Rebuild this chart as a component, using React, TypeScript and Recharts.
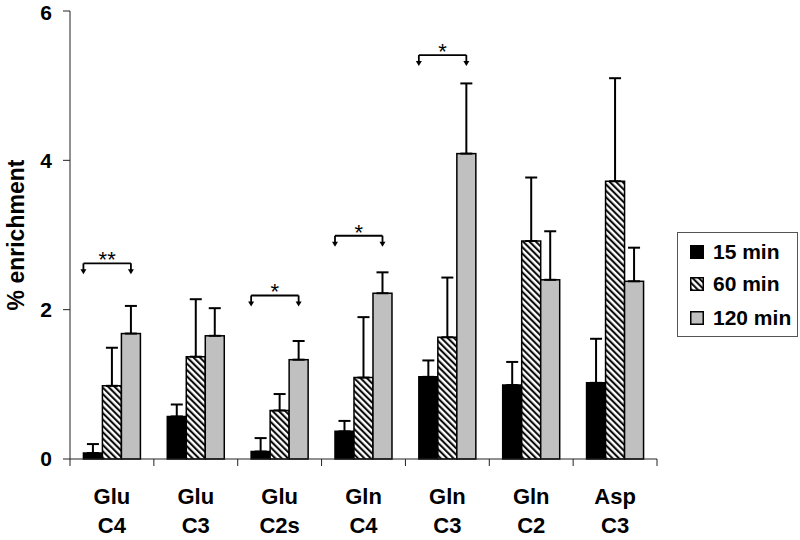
import { BarChart, Bar, XAxis, YAxis, ErrorBar, Legend, Label } from "recharts";

// values (% enrichment, mean + one-sided SD)
const categories = ["Glu C4", "Glu C3", "Glu C2s", "Gln C4", "Gln C3", "Gln C2", "Asp C3"];
const min15 = [0.08, 0.57, 0.1, 0.37, 1.1, 0.99, 1.02];
const min15Err = [0.12, 0.16, 0.18, 0.14, 0.22, 0.31, 0.59];
const min60 = [0.98, 1.37, 0.65, 1.09, 1.63, 2.92, 3.72];
const min60Err = [0.51, 0.77, 0.22, 0.81, 0.8, 0.85, 1.38];
const min120 = [1.68, 1.65, 1.33, 2.22, 4.09, 2.4, 2.38];
const min120Err = [0.37, 0.37, 0.25, 0.28, 0.94, 0.65, 0.45];
// significance brackets (15 vs 120 min)
const sigLevel = [2.62, null, 2.19, 2.99, 5.41, null, null];
const sigLabel = ["**", "", "*", "*", "*", "", ""];
const yTicks = [0, 2, 4, 6];

const FONT = '"Liberation Sans", Arial, Helvetica, sans-serif';
const GRAY = "#c0c0c0";

const data = categories.map((name, i) => ({
  name,
  m15: min15[i],
  m15Err: [0, min15Err[i]],
  m60: min60[i],
  m60Err: [0, min60Err[i]],
  m120: min120[i],
  m120Err: [0, min120Err[i]],
  sig: sigLevel[i],
  sigText: sigLabel[i],
}));

const series = [
  { key: "m15", name: "15 min", fill: "#000" },
  { key: "m60", name: "60 min", fill: "url(#hatch)" },
  { key: "m120", name: "120 min", fill: GRAY },
];

function CategoryTick(props: any) {
  const { x, y, payload, index } = props;
  const half = payload && typeof payload.offset === "number" ? payload.offset : 41.9;
  const [top, bottom] = String(payload.value).split(" ");
  const last = index === categories.length - 1;
  return (
    <g>
      <line x1={x - half} y1={y} x2={x - half} y2={y + 7} stroke="#222" />
      {last && <line x1={x + half} y1={y} x2={x + half} y2={y + 7} stroke="#222" />}
      <text x={x} y={y + 45} textAnchor="middle" fontFamily={FONT} fontWeight="bold" fontSize={22} fill="#000">
        {top}
      </text>
      <text x={x} y={y + 74} textAnchor="middle" fontFamily={FONT} fontWeight="bold" fontSize={22} fill="#000">
        {bottom}
      </text>
    </g>
  );
}

// gray bar also carries the significance bracket for its group
function GrayBarWithBracket(props: any) {
  const { x, y, width, height, payload } = props;
  const base = y + height;
  const bar = <rect x={x} y={y} width={width} height={height} fill={GRAY} stroke="#000" strokeWidth={1.5} />;
  if (!payload || payload.sig == null || !payload.m120) return bar;
  const perUnit = height / payload.m120;
  const by = base - payload.sig * perUnit;
  const left = x - 2 * width;
  const right = x + width / 2;
  const arrow = (ax: number) => (
    <g>
      <line x1={ax} y1={by} x2={ax} y2={by + 7} stroke="#000" strokeWidth={1.8} />
      <polygon points={`${ax - 3},${by + 6} ${ax + 3},${by + 6} ${ax},${by + 11}`} fill="#000" />
    </g>
  );
  return (
    <g>
      {bar}
      <line x1={left} y1={by} x2={right} y2={by} stroke="#000" strokeWidth={1.8} />
      {arrow(left)}
      {arrow(right)}
      <text x={(left + right) / 2} y={by + 4} textAnchor="middle" fontFamily={FONT} fontSize={22} fill="#000">
        {payload.sigText}
      </text>
    </g>
  );
}

function YLabel(props: any) {
  const vb = props.viewBox || {};
  const cx = (vb.x ?? 0) + 16;
  const cy = (vb.y ?? 11) + (vb.height ?? 448) / 2;
  return (
    <text
      x={cx}
      y={cy}
      transform={`rotate(-90, ${cx}, ${cy})`}
      textAnchor="middle"
      dominantBaseline="central"
      fontFamily={FONT}
      fontWeight="bold"
      fontSize={23}
      fill="#000"
    >
      % enrichment
    </text>
  );
}

function Swatch({ fill }: { fill: string }) {
  return (
    <svg width={14} height={14} style={{ display: "block" }}>
      <defs>
        <pattern id="hatchLegend" patternUnits="userSpaceOnUse" width="4.5" height="4.5" patternTransform="rotate(-45)">
          <rect width="4.5" height="4.5" fill="#fff" />
          <line x1="1.1" y1="0" x2="1.1" y2="4.5" stroke="#000" strokeWidth="2" />
        </pattern>
      </defs>
      <rect
        x={0.75}
        y={0.75}
        width={12.5}
        height={12.5}
        fill={fill === "url(#hatch)" ? "url(#hatchLegend)" : fill}
        stroke="#000"
        strokeWidth={1.5}
      />
    </svg>
  );
}

function LegendBox() {
  const centers = [19, 51, 85];
  return (
    <div
      style={{
        position: "relative",
        width: 121,
        height: 105,
        boxSizing: "border-box",
        border: "1px solid #555",
        background: "#fff",
        fontFamily: FONT,
        fontWeight: "bold",
        fontSize: 21,
        color: "#000",
      }}
    >
      {series.map((s, i) => (
        <div
          key={s.key}
          style={{ position: "absolute", left: 12, top: centers[i] - 13, height: 26, display: "flex", alignItems: "center" }}
        >
          <Swatch fill={s.fill} />
          <span style={{ marginLeft: 9, whiteSpace: "nowrap" }}>{s.name}</span>
        </div>
      ))}
    </div>
  );
}

export default function App() {
  return (
    <div style={{ position: "absolute", left: 0, top: 0, width: 800, height: 540, background: "#fff" }}>
      <BarChart
        width={800}
        height={540}
        data={data}
        margin={{ top: 11, right: 143, bottom: 0, left: 0 }}
        barCategoryGap="16%"
        barGap={0}
      >
        <defs>
          <pattern id="hatch" patternUnits="userSpaceOnUse" width="4.5" height="4.5" patternTransform="rotate(-45)">
            <rect width="4.5" height="4.5" fill="#fff" />
            <line x1="1.1" y1="0" x2="1.1" y2="4.5" stroke="#000" strokeWidth="2" />
          </pattern>
        </defs>
        <XAxis
          dataKey="name"
          height={81}
          tickLine={false}
          tickSize={0}
          tickMargin={0}
          axisLine={{ stroke: "#222" }}
          tick={<CategoryTick />}
          interval={0}
        />
        <YAxis
          width={70}
          domain={[0, 6]}
          ticks={yTicks}
          tickSize={7}
          tickMargin={11}
          axisLine={{ stroke: "#222" }}
          tickLine={{ stroke: "#222" }}
          tick={{ fontFamily: FONT, fontWeight: "bold", fontSize: 21, fill: "#000" }}
        >
          <Label content={<YLabel />} />
        </YAxis>
        <Legend
          layout="vertical"
          align="center"
          verticalAlign="middle"
          content={<LegendBox />}
          wrapperStyle={{ left: 677, top: 232, width: 121, height: 105 }}
        />
        <Bar dataKey="m15" name="15 min" fill="#000" stroke="#000" strokeWidth={1.5} isAnimationActive={false}>
          <ErrorBar dataKey="m15Err" width={6} strokeWidth={2} stroke="#000" direction="y" />
        </Bar>
        <Bar dataKey="m60" name="60 min" fill="url(#hatch)" stroke="#000" strokeWidth={1.5} isAnimationActive={false}>
          <ErrorBar dataKey="m60Err" width={6} strokeWidth={2} stroke="#000" direction="y" />
        </Bar>
        <Bar
          dataKey="m120"
          name="120 min"
          fill={GRAY}
          stroke="#000"
          strokeWidth={1.5}
          shape={<GrayBarWithBracket />}
          isAnimationActive={false}
        >
          <ErrorBar dataKey="m120Err" width={6} strokeWidth={2} stroke="#000" direction="y" />
        </Bar>
      </BarChart>
    </div>
  );
}
